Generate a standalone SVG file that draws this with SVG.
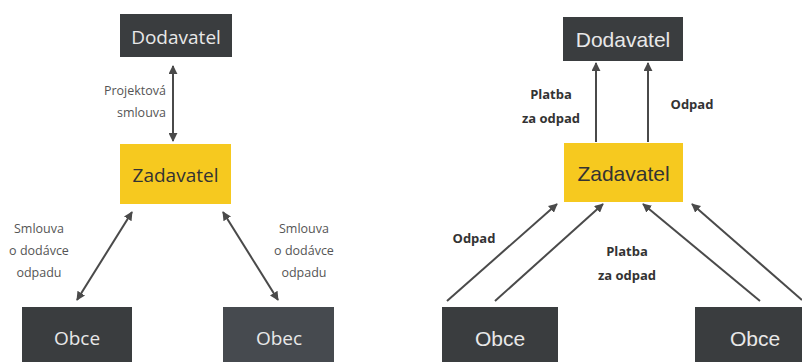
<svg xmlns="http://www.w3.org/2000/svg" width="802" height="362" viewBox="0 0 802 362">
<defs>
<style>
.dark{fill:#3a3d3f}
.dark2{fill:#464a4f}
.yel{fill:#f6c91f}
.nt{font-family:"Open Sans","Liberation Sans",sans-serif;font-size:19px;text-anchor:middle}
.nr{font-family:"Liberation Sans",Arial,sans-serif;font-size:21px;text-anchor:middle}
.wt{fill:#e8e8e8}
.bt{fill:#333}
.lbl{font-family:"Open Sans","Liberation Sans",sans-serif;font-size:12.5px;fill:#555;text-anchor:middle}
.lbl.end{text-anchor:end}
.lblb{font-family:"Open Sans","Liberation Sans",sans-serif;font-size:13px;font-weight:bold;fill:#333;text-anchor:middle}
.conn line{stroke:#4a4a4a;stroke-width:2}
.c2 line{marker-start:url(#ah2);marker-end:url(#ah)}
.c1 line{marker-end:url(#ah)}
</style>
<marker id="ah" viewBox="0 0 10 10" refX="9" refY="5" markerWidth="4.5" markerHeight="4.5" orient="auto" markerUnits="strokeWidth">
<path d="M0,0 L10,5 L0,10 z" fill="#4a4a4a"/>
</marker>
<marker id="ah2" viewBox="0 0 10 10" refX="1" refY="5" markerWidth="4.5" markerHeight="4.5" orient="auto" markerUnits="strokeWidth">
<path d="M10,0 L0,5 L10,10 z" fill="#4a4a4a"/>
</marker>
</defs>
<rect width="802" height="362" fill="#fff"/>

<!-- Left diagram -->
<g id="l-dodavatel"><rect class="dark" x="120" y="14" width="112" height="43"/><text class="nt wt" x="176" y="44" font-size="20">Dodavatel</text></g>
<g id="l-zadavatel"><rect class="yel" x="120" y="144" width="111" height="60"/><text class="nt bt" x="175.5" y="182" font-size="20">Zadavatel</text></g>
<g id="l-obce"><rect class="dark" x="22" y="307" width="110" height="60"/><text class="nt wt" x="77" y="345" font-size="20">Obce</text></g>
<g id="l-obec"><rect class="dark2" x="223" y="307" width="111" height="60"/><text class="nt wt" x="279" y="345" font-size="20">Obec</text></g>

<!-- Right diagram -->
<g id="r-dodavatel"><rect class="dark" x="563" y="17" width="120" height="44"/><text class="nr wt" x="623" y="47">Dodavatel</text></g>
<g id="r-zadavatel"><rect class="yel" x="564" y="143" width="119" height="59"/><text class="nr bt" x="623.5" y="181" font-size="22">Zadavatel</text></g>
<g id="r-obce1"><rect class="dark" x="442" y="307" width="116" height="60"/><text class="nr wt" x="500" y="346" font-size="22">Obce</text></g>
<g id="r-obce2"><rect class="dark" x="695" y="307" width="120" height="60"/><text class="nr wt" x="755" y="346" font-size="22">Obce</text></g>

<g id="connectors" class="conn">
<g class="c2">
<line x1="173" y1="66" x2="173" y2="141"/>
<line x1="132" y1="212" x2="77" y2="300"/>
<line x1="223" y1="212" x2="278" y2="300"/>
</g>
<g class="c1">
<line x1="596" y1="142" x2="596" y2="63"/>
<line x1="648" y1="142" x2="648" y2="63"/>
<line x1="447" y1="301" x2="557" y2="204"/>
<line x1="495" y1="301" x2="603" y2="204"/>
<line x1="760" y1="301" x2="643" y2="204"/>
<line x1="802" y1="300" x2="692" y2="204"/>
</g>
</g>

<g id="labels">
<text class="lbl end" x="166" y="95">Projektová</text>
<text class="lbl end" x="166" y="117">smlouva</text>
<text class="lbl" x="39" y="233">Smlouva</text>
<text class="lbl" x="39" y="255">o dodávce</text>
<text class="lbl" x="39" y="277">odpadu</text>
<text class="lbl" x="304" y="233">Smlouva</text>
<text class="lbl" x="304" y="255">o dodávce</text>
<text class="lbl" x="304" y="277">odpadu</text>
<text class="lblb" x="551" y="99">Platba</text>
<text class="lblb" x="551" y="123">za odpad</text>
<text class="lblb" x="692" y="109">Odpad</text>
<text class="lblb" x="474" y="243">Odpad</text>
<text class="lblb" x="627" y="256">Platba</text>
<text class="lblb" x="627" y="280">za odpad</text>
</g>
</svg>
